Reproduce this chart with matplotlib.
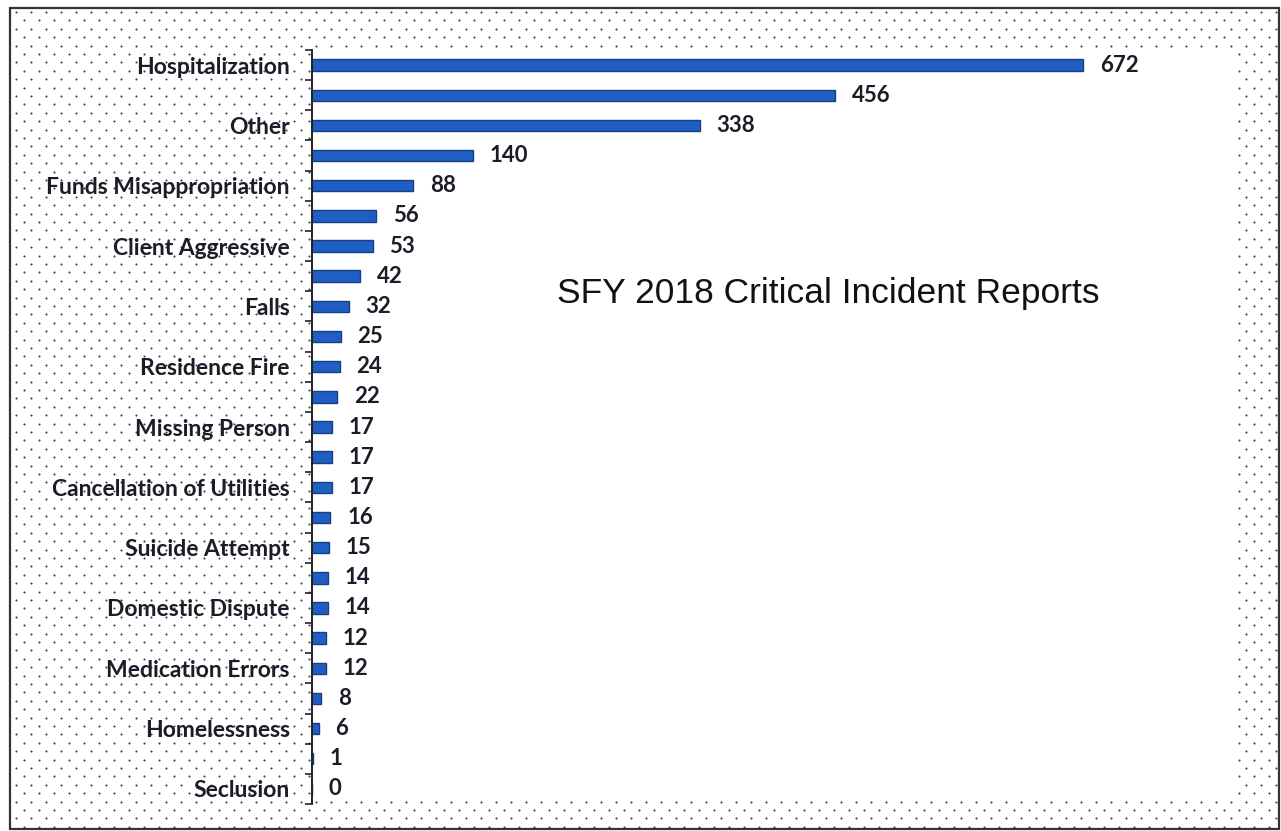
import matplotlib.pyplot as plt
import numpy as np
from matplotlib.patches import Rectangle

# incident categories, largest first (every other one carries a tick label)
categories = [
    "Hospitalization", "", "Other", "", "Funds Misappropriation", "",
    "Client Aggressive", "", "Falls", "", "Residence Fire", "",
    "Missing Person", "", "Cancellation of Utilities", "", "Suicide Attempt", "",
    "Domestic Dispute", "", "Medication Errors", "", "Homelessness", "",
    "Seclusion",
]
counts = [672, 456, 338, 140, 88, 56, 53, 42, 32, 25, 24, 22, 17, 17, 17,
          16, 15, 14, 14, 12, 12, 8, 6, 1, 0]
title = "SFY 2018 Critical Incident Reports"

W, H = 1281, 831
bar_color = "#1f5fc4"
edge_color = "#173f86"
text_color = "#1c1c28"


def main():
    fig = plt.figure(figsize=(W / 100, H / 100), dpi=100)

    # background layer in pixel coordinates: dotted fill, white plot area, frame
    bg = fig.add_axes([0, 0, 1, 1], zorder=0)
    bg.set_xlim(0, W)
    bg.set_ylim(H, 0)
    bg.axis("off")

    xs, ys = [], []
    for i, y in enumerate(np.arange(12, H - 2, 8.4)):
        off = 7.5 if i % 2 else 0.0
        for x in np.arange(16 + off, W - 4, 15):
            xs.append(x)
            ys.append(y)
    bg.scatter(xs, ys, s=2.2, color="#3c3c3c", linewidths=0)

    bg.add_patch(Rectangle((311, 48), 1236 - 311, 800 - 48,
                           facecolor="white", edgecolor="none", zorder=2))
    bg.add_patch(Rectangle((10, 8), 1269, 821, facecolor="none",
                           edgecolor="#333333", linewidth=1.6, zorder=3))

    # bar chart
    left, right, top, bottom = 312, 1236, 50, 804
    ax = fig.add_axes([left / W, 1 - bottom / H, (right - left) / W,
                       (bottom - top) / H], zorder=1)
    ax.patch.set_alpha(0)

    y = np.arange(len(counts))
    ax.barh(y, counts, height=0.38, color=bar_color, edgecolor=edge_color,
            linewidth=1.0)
    for yi, c in zip(y, counts):
        ax.annotate(str(c), (c, yi), xytext=(12, 0), textcoords="offset points",
                    va="center", ha="left", fontsize=16, fontweight="bold",
                    family="Lato", color=text_color)

    ax.set_xlim(0, 805)
    ax.set_ylim(len(counts) - 0.5, -0.5)

    ax.set_yticks(y)
    ax.set_yticklabels(categories, fontsize=16.5, fontweight="bold",
                       family="Lato", color=text_color)
    ax.tick_params(axis="y", which="major", length=0, pad=16)
    ax.set_yticks(np.arange(len(counts) + 1) - 0.5, minor=True)
    ax.tick_params(axis="y", which="minor", length=5, width=1.2,
                   direction="out", color="#222222")
    ax.set_xticks([])

    for side in ("top", "right", "bottom"):
        ax.spines[side].set_visible(False)
    ax.spines["left"].set_linewidth(1.4)
    ax.spines["left"].set_color("#222222")

    fig.text(828 / W, 1 - 294 / H, title, ha="center", va="center",
             fontsize=25.5, family="Liberation Sans", color="#111111")

    fig.savefig("out.png", dpi=100)


if __name__ == "__main__":
    main()
